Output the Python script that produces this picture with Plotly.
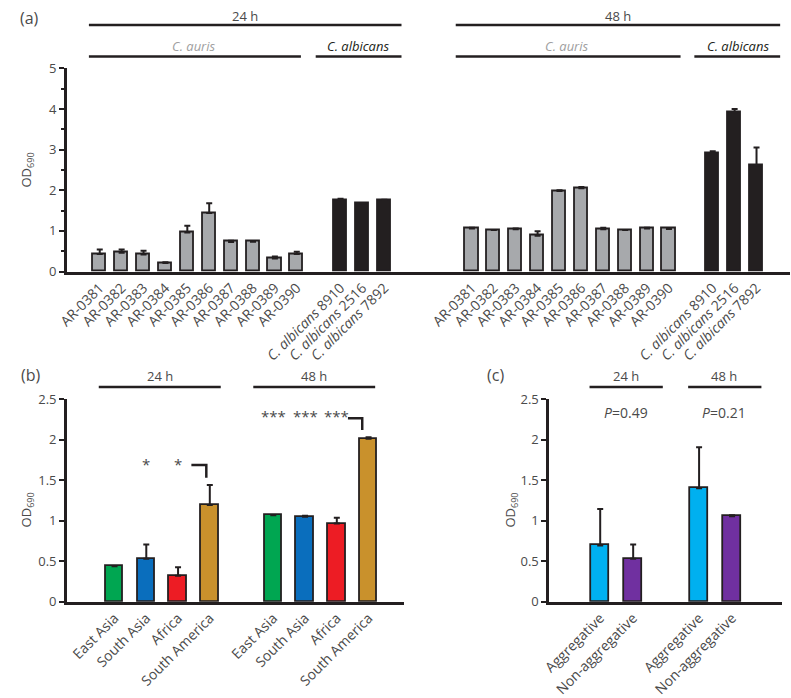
import plotly.graph_objects as go

W, H = 791, 698

# ---------------- data ----------------
strains = ["AR-0381", "AR-0382", "AR-0383", "AR-0384", "AR-0385",
           "AR-0386", "AR-0387", "AR-0388", "AR-0389", "AR-0390"]
albicans = ["<i>C. albicans</i> 8910", "<i>C. albicans</i> 2516", "<i>C. albicans</i> 7892"]

auris_24 = [0.43, 0.46, 0.42, 0.21, 0.96, 1.44, 0.73, 0.735, 0.32, 0.43]
auris_24_err = [0.11, 0.08, 0.09, 0.02, 0.17, 0.24, 0.03, 0.015, 0.05, 0.06]
alb_24 = [1.76, 1.68, 1.76]
alb_24_err = [0.03, 0.01, 0.01]

auris_48 = [1.06, 1.02, 1.04, 0.88, 1.98, 2.05, 1.04, 1.02, 1.06, 1.05]
auris_48_err = [0.02, 0.0, 0.02, 0.11, 0.02, 0.03, 0.035, 0.0, 0.015, 0.0]
alb_48 = [2.92, 3.92, 2.61]
alb_48_err = [0.04, 0.08, 0.44]

regions = ["East Asia", "South Asia", "Africa", "South America"]
region_colors = ["#00A651", "#0A6EBD", "#ED1C24", "#C9912C"]
region_24 = [0.437, 0.53, 0.32, 1.195]
region_24_err = [0.0, 0.176, 0.105, 0.245]
region_48 = [1.067, 1.048, 0.964, 2.01]
region_48_err = [0.0, 0.012, 0.072, 0.02]

agg_groups = ["Aggregative", "Non-aggregative"]
agg_colors = ["#00B0F0", "#7030A0"]
agg_24 = [0.694, 0.532]
agg_24_err = [0.449, 0.174]
agg_48 = [1.40, 1.056]
agg_48_err = [0.505, 0.011]

p_values = ["0.49", "0.21"]

DARK = "#231F20"
TXT = "#4a4a4a"
FONT = "Open Sans"

def px(xp):
    return xp / W

def py(yp):
    return 1 - yp / H

fig = go.Figure()

def errbar(vals):
    return dict(type="data", array=vals, arrayminus=[0] * len(vals), symmetric=False,
                color=DARK, thickness=2, width=3)

# ---------------- panel (a) ----------------
pos_a_24 = list(range(10))
pos_a_24c = [11, 12, 13]
pos_a_48 = [17 + i for i in range(10)]
pos_a_48c = [28, 29, 30]

fig.add_trace(go.Bar(x=pos_a_24, y=auris_24, error_y=errbar(auris_24_err),
                     marker=dict(color="#A7A9AC", line=dict(color=DARK, width=1.8)),
                     width=0.6, xaxis="x", yaxis="y", showlegend=False))
fig.add_trace(go.Bar(x=pos_a_24c, y=alb_24, error_y=errbar(alb_24_err),
                     marker=dict(color=DARK, line=dict(color=DARK, width=1.8)),
                     width=0.6, xaxis="x", yaxis="y", showlegend=False))
fig.add_trace(go.Bar(x=pos_a_48, y=auris_48, error_y=errbar(auris_48_err),
                     marker=dict(color="#A7A9AC", line=dict(color=DARK, width=1.8)),
                     width=0.6, xaxis="x", yaxis="y", showlegend=False))
fig.add_trace(go.Bar(x=pos_a_48c, y=alb_48, error_y=errbar(alb_48_err),
                     marker=dict(color=DARK, line=dict(color=DARK, width=1.8)),
                     width=0.6, xaxis="x", yaxis="y", showlegend=False))

# ---------------- panel (b) ----------------
pos_b_24 = [0, 1, 2, 3]
pos_b_48 = [5, 6, 7, 8]
fig.add_trace(go.Bar(x=pos_b_24, y=region_24, error_y=errbar(region_24_err),
                     marker=dict(color=region_colors, line=dict(color=DARK, width=1.8)),
                     width=0.55, xaxis="x2", yaxis="y2", showlegend=False))
fig.add_trace(go.Bar(x=pos_b_48, y=region_48, error_y=errbar(region_48_err),
                     marker=dict(color=region_colors, line=dict(color=DARK, width=1.8)),
                     width=0.55, xaxis="x2", yaxis="y2", showlegend=False))

# ---------------- panel (c) ----------------
pos_c_24 = [0, 1]
pos_c_48 = [3, 4]
fig.add_trace(go.Bar(x=pos_c_24, y=agg_24, error_y=errbar(agg_24_err),
                     marker=dict(color=agg_colors, line=dict(color=DARK, width=1.8)),
                     width=0.53, xaxis="x3", yaxis="y3", showlegend=False))
fig.add_trace(go.Bar(x=pos_c_48, y=agg_48, error_y=errbar(agg_48_err),
                     marker=dict(color=agg_colors, line=dict(color=DARK, width=1.8)),
                     width=0.53, xaxis="x3", yaxis="y3", showlegend=False))

axis_common = dict(showline=True, linecolor=DARK, linewidth=2.5, showgrid=False,
                   zeroline=False)
xfont = dict(family=FONT, size=14, color=TXT)
yfont = dict(family=FONT, size=13, color=TXT)

fig.update_layout(
    width=W, height=H, margin=dict(l=0, r=0, t=0, b=0),
    paper_bgcolor="white", plot_bgcolor="white",
    font=dict(family=FONT, color=TXT),
    xaxis=dict(domain=[px(56.7), px(790)], range=[-1.5, 31.53],
               tickvals=pos_a_24 + pos_a_24c + pos_a_48 + pos_a_48c,
               ticktext=strains + albicans + strains + albicans,
               tickangle=-45, ticks="", anchor="y", tickfont=xfont, **axis_common),
    yaxis=dict(domain=[py(272.7), py(61.7)], range=[0, 5], tickvals=[0, 1, 2, 3, 4, 5],
               ticks="outside", ticklen=5, tickwidth=2, tickcolor=DARK,
               minor=dict(ticks="outside", dtick=0.5, ticklen=3, tickwidth=2, tickcolor=DARK),
               anchor="x", tickfont=yfont, **axis_common),
    xaxis2=dict(domain=[px(56.7), px(399)], range=[-1.5, 9.13],
                tickvals=pos_b_24 + pos_b_48, ticktext=regions + regions,
                tickangle=-45, ticks="", anchor="y2", tickfont=xfont, **axis_common),
    yaxis2=dict(domain=[py(615.7), py(405.2)], range=[0, 2.5],
                tickvals=[0, 0.5, 1, 1.5, 2, 2.5], ticktext=["0", "0.5", "1", "1.5", "2", "2.5"],
                ticks="outside", ticklen=5, tickwidth=2, tickcolor=DARK,
                anchor="x2", tickfont=yfont, **axis_common),
    xaxis3=dict(domain=[px(545.7), px(781.7)], range=[-1.55, 5.51],
                tickvals=pos_c_24 + pos_c_48, ticktext=agg_groups + agg_groups,
                tickangle=-45, ticks="", anchor="y3", tickfont=xfont, **axis_common),
    yaxis3=dict(domain=[py(615.7), py(405.2)], range=[0, 2.5],
                tickvals=[0, 0.5, 1, 1.5, 2, 2.5], ticktext=["0", "0.5", "1", "1.5", "2", "2.5"],
                ticks="outside", ticklen=5, tickwidth=2, tickcolor=DARK,
                anchor="x3", tickfont=yfont, **axis_common),
    bargap=0,
)

shapes = []
annos = []

def hline(x0, x1, y):
    shapes.append(dict(type="line", xref="paper", yref="paper",
                       x0=px(x0), x1=px(x1), y0=py(y), y1=py(y),
                       line=dict(color=DARK, width=2.5)))

def text(x, y, s, size=13, color=TXT, italic=False, angle=0):
    if italic:
        s = "<i>" + s + "</i>"
    annos.append(dict(xref="paper", yref="paper", x=px(x), y=py(y), text=s,
                      showarrow=False, xanchor="center", yanchor="middle",
                      textangle=angle, font=dict(family=FONT, size=size, color=color)))

# panel (a) headers
hline(79, 396, 16.7); text(237, 7, "24 h")
hline(451, 780, 16.7); text(616, 7, "48 h")
hline(79, 294, 49.3); text(186, 38, "C. auris", color="#A0A0A0", italic=True)
hline(309, 396, 49.3); text(352, 38, "C. albicans", color=DARK, italic=True)
hline(451, 679, 49.3); text(564, 38, "C. auris", color="#A0A0A0", italic=True)
hline(693, 780, 49.3); text(737, 38, "C. albicans", color=DARK, italic=True)
text(19, 9, "(a)", size=16)
text(16, 167, "OD<sub>690</sub>", size=13, angle=-90)

# panel (b)
hline(89, 212.7, 392.7); text(151, 381, "24 h")
hline(245.7, 369.3, 392.7); text(307.7, 381, "48 h")
text(20, 380, "(b)", size=16)
text(16, 520, "OD<sub>690</sub>", size=13, angle=-90)

# panel (c)
hline(586.7, 661, 392.7); text(623.3, 381, "24 h")
hline(686.7, 761, 392.7); text(723.3, 381, "48 h")
text(491.7, 380, "(c)", size=16)
text(507, 520, "OD<sub>690</sub>", size=13, angle=-90)
for xc, p in zip([623.3, 723.3], p_values):
    text(xc, 419, "<i>P</i>=" + p, size=14)

# significance marks in panel (b)
for xi in pos_b_24[1:3]:
    annos.append(dict(xref="x2", yref="y2", x=xi, y=1.70, text="*", showarrow=False,
                      font=dict(family=FONT, size=15, color=TXT)))
for xi in pos_b_48[0:3]:
    annos.append(dict(xref="x2", yref="y2", x=xi, y=2.29, text="***", showarrow=False,
                      font=dict(family=FONT, size=15, color=TXT)))

def bracket(xbar, ytop, ybot, off0, off1):
    shapes.append(dict(type="path", xref="x2", yref="y2",
                       path=f"M {xbar - off0},{ytop} L {xbar - off1},{ytop} L {xbar - off1},{ybot}",
                       line=dict(color=DARK, width=2.5)))

bracket(pos_b_24[3], 1.686, 1.53, 0.58, 0.11)
bracket(pos_b_48[3], 2.265, 2.12, 0.65, 0.2)

fig.update_layout(shapes=shapes, annotations=annos)
fig.write_html("out.html", config={"displayModeBar": False},
               post_script="document.body.style.margin='0';")
